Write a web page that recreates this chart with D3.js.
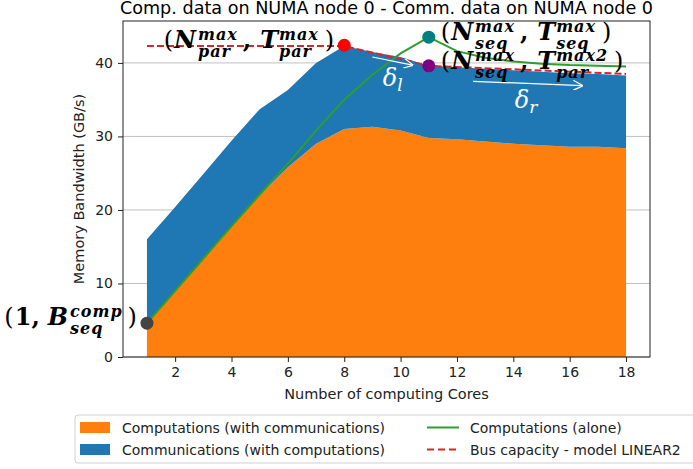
<!DOCTYPE html>
<html>
<head>
<meta charset="utf-8">
<script src="https://cdn.jsdelivr.net/npm/d3@7"></script>
<style>
  body { margin: 0; background: #fff; }
  svg { font-family: "DejaVu Sans", sans-serif; }
</style>
</head>
<body>
<svg id="chart" width="693" height="469"></svg>
<script>
// values
const cores = [1, 2, 3, 4, 5, 6, 7, 8, 9, 10, 11, 12, 13, 14, 15, 16, 17, 18];
const compWithComm = [4.6, 9.0, 13.4, 17.8, 22.0, 25.8, 29.0, 31.0, 31.3, 30.8, 29.8, 29.6, 29.3, 29.0, 28.8, 28.6, 28.6, 28.4];
const commWithComp = [11.4, 11.4, 11.5, 11.6, 11.7, 10.5, 11.0, 11.3, 10.2, 10.0, 9.8, 9.8, 9.9, 10.0, 10.0, 10.0, 9.9, 9.9];
const compAlone = [4.6, 9.0, 13.4, 17.8, 22.1, 26.3, 30.8, 35.0, 38.4, 41.3, 43.5, 41.6, 40.7, 40.2, 39.9, 39.7, 39.6, 39.5];
const busCores = [1, 8, 11, 18];
const busCapacity = [42.3, 42.3, 39.6, 38.5];
const xTicks = [2, 4, 6, 8, 10, 12, 14, 16, 18];
const yTicks = [0, 10, 20, 30, 40];

const svg = d3.select('#chart');
const margin = { top: 21, left: 123, right: 43, bottom: 112 };
const width = 693, height = 469;

const x = d3.scaleLinear().domain([0.15, 18.85]).range([margin.left, width - margin.right]);
const y = d3.scaleLinear().domain([0, 45.7]).range([height - margin.bottom, margin.top]);

// title
svg.append('text')
  .attr('x', (margin.left + width - margin.right) / 2)
  .attr('y', 13.5)
  .attr('text-anchor', 'middle')
  .attr('font-size', 17.6)
  .text('Comp. data on NUMA node 0 - Comm. data on NUMA node 0');

// grid
svg.append('g')
  .selectAll('line')
  .data(yTicks)
  .enter()
  .append('line')
  .attr('x1', margin.left)
  .attr('x2', width - margin.right)
  .attr('y1', d => y(d))
  .attr('y2', d => y(d))
  .attr('stroke', '#b0b0b0')
  .attr('stroke-width', 0.8);

// stacked areas
const rows = cores.map((c, i) => ({ c: c, comp: compWithComm[i], comm: commWithComp[i] }));

svg.append('path')
  .datum(rows)
  .attr('fill', '#ff7f0e')
  .attr('d', d3.area().x(d => x(d.c)).y0(y(0)).y1(d => y(d.comp)));

svg.append('path')
  .datum(rows)
  .attr('fill', '#1f77b4')
  .attr('d', d3.area().x(d => x(d.c)).y0(d => y(d.comp)).y1(d => y(d.comp + d.comm)));

// bus capacity model
svg.append('path')
  .datum(busCores.map((c, i) => [c, busCapacity[i]]))
  .attr('fill', 'none')
  .attr('stroke', '#d62728')
  .attr('stroke-width', 2)
  .attr('stroke-dasharray', '7,3')
  .attr('d', d3.line().x(d => x(d[0])).y(d => y(d[1])));

// computations alone
svg.append('path')
  .datum(cores.map((c, i) => [c, compAlone[i]]))
  .attr('fill', 'none')
  .attr('stroke', '#2ca02c')
  .attr('stroke-width', 2)
  .attr('d', d3.line().x(d => x(d[0])).y(d => y(d[1])));

// axes
const xAxis = svg.append('g')
  .attr('transform', `translate(0,${height - margin.bottom})`)
  .call(d3.axisBottom(x).tickValues(xTicks).tickSize(5).tickPadding(5));
const yAxis = svg.append('g')
  .attr('transform', `translate(${margin.left},0)`)
  .call(d3.axisLeft(y).tickValues(yTicks).tickSize(5).tickPadding(5));
[xAxis, yAxis].forEach(a => {
  a.select('.domain').remove();
  a.selectAll('text').attr('font-size', 14).attr('fill', '#222').attr('font-family', 'DejaVu Sans');
  a.selectAll('line').attr('stroke', '#222');
});

// frame
svg.append('rect')
  .attr('x', margin.left)
  .attr('y', margin.top)
  .attr('width', width - margin.right - margin.left)
  .attr('height', height - margin.bottom - margin.top)
  .attr('fill', 'none')
  .attr('stroke', '#222')
  .attr('stroke-width', 1);

svg.append('text')
  .attr('x', (margin.left + width - margin.right) / 2)
  .attr('y', 399)
  .attr('text-anchor', 'middle')
  .attr('font-size', 14.5)
  .attr('fill', '#222')
  .text('Number of computing Cores');

svg.append('text')
  .attr('transform', `translate(84,${(margin.top + height - margin.bottom) / 2}) rotate(-90)`)
  .attr('text-anchor', 'middle')
  .attr('font-size', 14.5)
  .attr('fill', '#222')
  .text('Memory Bandwidth (GB/s)');

// white arrows and deltas
svg.append('defs').append('marker')
  .attr('id', 'head')
  .attr('viewBox', '0 0 10 10')
  .attr('refX', 9).attr('refY', 5)
  .attr('markerWidth', 10).attr('markerHeight', 10)
  .attr('markerUnits', 'userSpaceOnUse')
  .attr('orient', 'auto')
  .append('path')
  .attr('d', 'M0,0 L10,5 L0,10')
  .attr('fill', 'none')
  .attr('stroke', '#fff')
  .attr('stroke-width', 1.2);

const arrows = [[[9.0, 40.8], [10.42, 39.7]], [[12.57, 37.5], [16.44, 36.9]]];
arrows.forEach(a => {
  svg.append('line')
    .attr('x1', x(a[0][0])).attr('y1', y(a[0][1]))
    .attr('x2', x(a[1][0])).attr('y2', y(a[1][1]))
    .attr('stroke', '#fff').attr('stroke-width', 1.2)
    .attr('marker-end', 'url(#head)');
});

function delta(cx, cy, sub) {
  const t = svg.append('text')
    .attr('x', x(cx)).attr('y', y(cy))
    .attr('fill', '#fff')
    .attr('font-family', 'DejaVu Serif')
    .attr('font-size', 24);
  t.append('tspan').attr('font-style', 'italic').text('δ');
  t.append('tspan').attr('font-style', 'italic').attr('font-size', 17).attr('dy', 5).text(sub);
}
delta(9.37, 36.9, 'l');
delta(14.05, 33.9, 'r');

// points
const points = [
  { c: 1, v: 4.6, col: '#444444' },
  { c: 8, v: 42.4, col: '#ff0000' },
  { c: 11, v: 43.5, col: '#008080' },
  { c: 11, v: 39.6, col: '#800080' }
];
svg.selectAll('.pt')
  .data(points)
  .enter()
  .append('circle')
  .attr('class', 'pt')
  .attr('cx', d => x(d.c))
  .attr('cy', d => y(d.v))
  .attr('r', 6.5)
  .attr('fill', d => d.col);

// math-like labels: pieces laid out left to right
function mathLabel(px, py, anchor, pieces) {
  const g = svg.append('g');
  let cx = 0;
  const small = sel => sel.attr('font-family', 'DejaVu Serif').attr('font-style', 'italic')
    .attr('font-weight', 'bold').attr('font-size', 16).attr('letter-spacing', 1);
  pieces.forEach(p => {
    if (p.sup !== undefined) {
      const a = g.append('text').attr('x', cx).attr('y', -8).call(small).text(p.sup);
      const b = g.append('text').attr('x', cx).attr('y', 9).call(small).text(p.sub);
      cx += Math.max(a.node().getComputedTextLength(), b.node().getComputedTextLength()) + (p.gap || 0);
    } else {
      const t = g.append('text').attr('x', cx).attr('y', 0)
        .attr('font-family', 'DejaVu Serif')
        .attr('font-style', p.it ? 'italic' : 'normal')
        .attr('font-weight', p.bold ? 'bold' : 'normal')
        .attr('font-size', 24).text(p.t);
      cx += t.node().getComputedTextLength() + (p.gap || 0);
    }
  });
  const ox = anchor === 'end' ? px - cx : px;
  g.attr('transform', `translate(${ox},${py})`);
}

function pairLabel(s1, s2) {
  return [
    { t: '(', gap: 1 }, { t: 'N', it: true, bold: true, gap: 2 }, { sup: 'max', sub: s1[1], gap: 5 },
    { t: ',', bold: true, gap: 9 }, { t: 'T', it: true, bold: true, gap: 1 }, { sup: s2[0], sub: s2[1], gap: 6 }, { t: ')' }
  ];
}

mathLabel(x(8) - 10, y(42.4) + 3, 'end', pairLabel(['max', 'par'], ['max', 'par']));
mathLabel(x(11) + 12, y(43.5) + 3, 'start', pairLabel(['max', 'seq'], ['max', 'seq']));
mathLabel(x(11) + 12, y(39.6) + 3, 'start', pairLabel(['max', 'seq'], ['max2', 'par']));
mathLabel(x(1) - 10, y(4.6) + 2, 'end', [
  { t: '(', gap: 1 }, { t: '1,', bold: true, gap: 8 }, { t: 'B', it: true, bold: true, gap: 2 },
  { sup: 'comp', sub: 'seq', gap: 5 }, { t: ')' }
]);

// legend
const lg = svg.append('g').attr('transform', 'translate(75,415)');
lg.append('rect')
  .attr('x', 0).attr('y', 0).attr('width', 640).attr('height', 48)
  .attr('rx', 3)
  .attr('fill', '#fff').attr('stroke', '#d0d0d0');
const legendItems = [
  { label: 'Computations (with communications)', kind: 'patch', col: '#ff7f0e', gx: 5, gy: 12.5 },
  { label: 'Communications (with computations)', kind: 'patch', col: '#1f77b4', gx: 5, gy: 34.5 },
  { label: 'Computations (alone)', kind: 'line', col: '#2ca02c', gx: 352, gy: 12.5 },
  { label: 'Bus capacity - model LINEAR2', kind: 'dash', col: '#d62728', gx: 352, gy: 34.5 }
];
legendItems.forEach(d => {
  if (d.kind === 'patch') {
    lg.append('rect').attr('x', d.gx).attr('y', d.gy - 5.5).attr('width', 30).attr('height', 11).attr('fill', d.col);
  } else {
    lg.append('line').attr('x1', d.gx).attr('x2', d.gx + 32).attr('y1', d.gy).attr('y2', d.gy)
      .attr('stroke', d.col).attr('stroke-width', 2)
      .attr('stroke-dasharray', d.kind === 'dash' ? '7,4' : null);
  }
  lg.append('text').attr('x', d.gx + (d.kind === 'patch' ? 42 : 43)).attr('y', d.gy + 5)
    .attr('font-size', 14).attr('fill', '#222').text(d.label);
});
</script>
</body>
</html>
